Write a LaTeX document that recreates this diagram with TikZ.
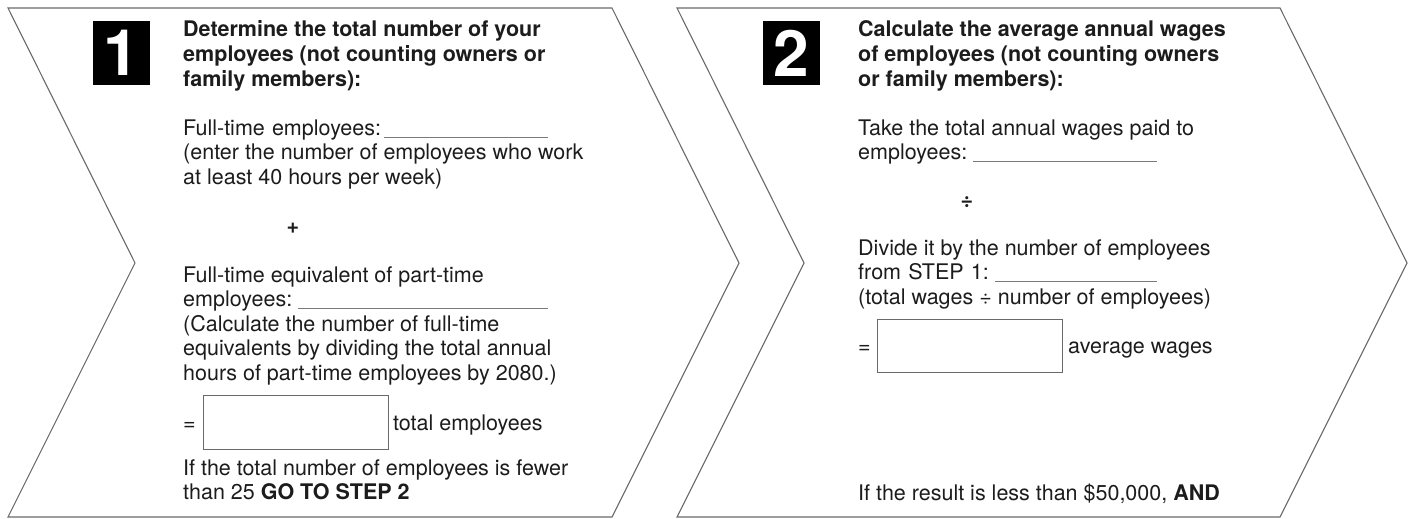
\documentclass[tikz,border=0pt]{standalone}
\usepackage{fontspec}
\setmainfont{TeX Gyre Heros}
\usepackage{xcolor}
\usetikzlibrary{math}
\usetikzlibrary{positioning}
\definecolor{edgegray}{HTML}{6A6A6A}
\definecolor{rulegray}{HTML}{7A7A7A}
\definecolor{inkblack}{HTML}{1C1C1C}
\tikzset{chev/.style={draw=edgegray, line width=1.1pt, line join=miter}}
\newcommand{\blankfill}{\hspace{3pt}\textcolor{rulegray}{\leaders\hrule height -1.6pt depth 2.8pt\hfill}}

\begin{document}
\begin{tikzpicture}[x=1pt, y=-1pt]
\tikzset{
  txt/.style={anchor=base west, inner sep=0pt, text=inkblack, font=\fontsize{21.5}{24.5}\selectfont},
  head/.style={txt, font=\fontsize{21.5}{24.5}\selectfont\bfseries},
  blank/.style={txt, text width=#1, align=left},
  numbox/.style={fill=black, text=white, minimum width=57pt, minimum height=64pt, inner sep=0pt, font=\fontsize{64}{64}\selectfont\bfseries},
  answer/.style={draw=edgegray, line width=0.9pt, minimum width=185pt, minimum height=54pt, inner sep=0pt},
}

\tikzmath{\ls=24.5; \d=127; \xa=183; \xb=858;}

\useasboundingbox (0,0) rectangle (1410,519);

\draw[chev] (8,8) -- (612,8) -- (612+\d,263) -- (612,517) -- (8,517) -- (8+\d,263) -- cycle;
\draw[chev] (677,8) -- (1280,8) -- (1280+\d,263) -- (1280,517) -- (677,517) -- (677+\d,263) -- cycle;

\node[numbox] (num1) at (121.5,53) {1};
\node[numbox] (num2) at (791.5,53) {2};

\node[head] (h1a) at (\xa,37) {Determine the total number of your};
\node[head] (h1b) at (\xa,37+\ls) {employees (not counting owners or};
\node[head] (h1c) at (\xa,37+2*\ls) {family members):};

\node[blank=365pt] (ft) at (\xa,135) {Full-time employees:\blankfill};
\node[txt] (ftn1) at (\xa,135+\ls) {(enter the number of employees who work};
\node[txt] (ftn2) at (\xa,135+2*\ls) {at least 40 hours per week)};

\node[txt, anchor=center] (plus) at (293,228) {\textbf{+}};

\node[txt] (pt) at (\xa,282) {Full-time equivalent of part-time};
\node[blank=365pt] (ptl) at (\xa,282+\ls) {employees:\hspace{3pt}\blankfill};
\node[txt] (ptn1) at (\xa,282+2*\ls) {(Calculate the number of full-time};
\node[txt] (ptn2) at (\xa,282+3*\ls) {equivalents by dividing the total annual};
\node[txt] (ptn3) at (\xa,282+4*\ls) {hours of part-time employees by 2080.)};

\node[txt] (eq1) at (\xa,430) {=};
\node[answer] (tot) at (295.5,422) {};
\node[txt] (totl) at (393,430) {total employees};

\node[txt] (if1a) at (\xa,475) {If the total number of employees is fewer};
\node[txt] (if1b) at (\xa,475+\ls) {than 25 \textbf{GO TO STEP 2}};

\node[head] (h2a) at (\xb,37) {Calculate the average annual wages};
\node[head] (h2b) at (\xb,37+\ls) {of employees (not counting owners};
\node[head] (h2c) at (\xb,37+2*\ls) {or family members):};

\node[txt] (tw) at (\xb,135) {Take the total annual wages paid to};
\node[blank=299pt] (twl) at (\xb,135+\ls) {employees:\hspace{3pt}\blankfill};

\node[txt, anchor=center] (div) at (967,202) {\textbf{÷}};

\node[txt] (dv) at (\xb,255) {Divide it by the number of employees};
\node[blank=299pt] (dvl) at (\xb,255+\ls) {from STEP 1:\hspace{3pt}\blankfill};
\node[txt] (dvn) at (\xb,255+2*\ls) {(total wages ÷ number of employees)};

\node[txt] (eq2) at (\xb,353) {=};
\node[answer, minimum height=53pt] (avg) at (969.5,345.5) {};
\node[txt] (avgl) at (1068,353) {average wages};

\node[txt] (if2) at (\xb,500) {If the result is less than \$50,000, \textbf{AND}};
\end{tikzpicture}
\end{document}
